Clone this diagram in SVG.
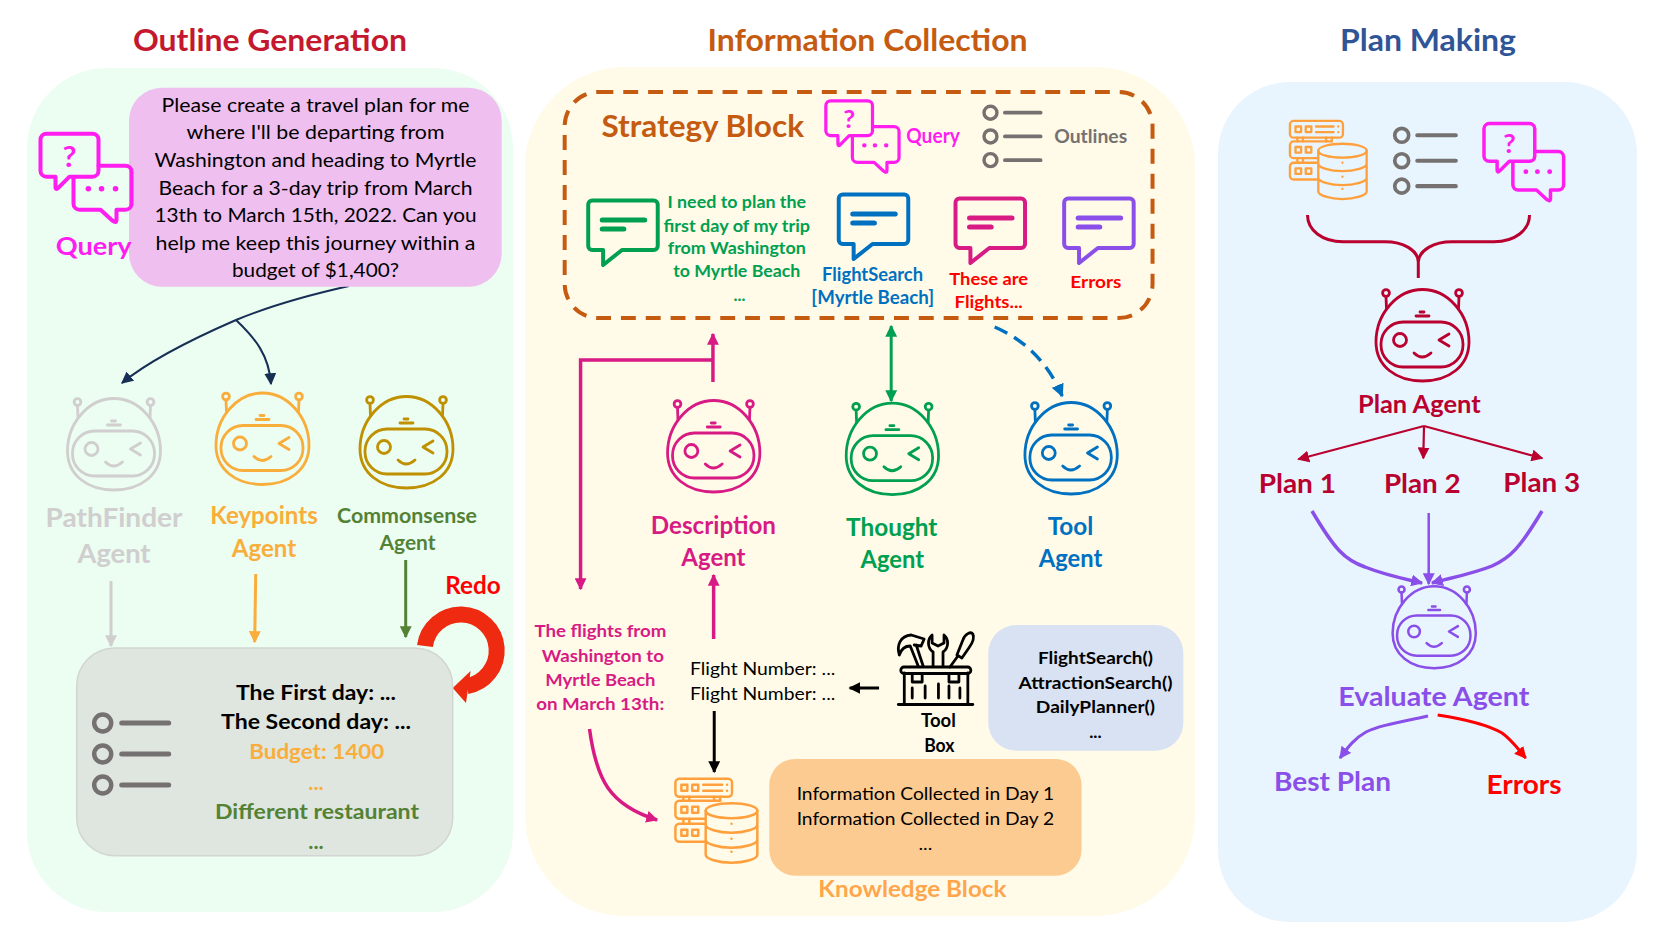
<svg xmlns="http://www.w3.org/2000/svg" width="1661" height="934" viewBox="0 0 1661 934">
<style>
text{font-family:"Lato","Carlito","Liberation Sans",sans-serif;text-anchor:middle;font-weight:700}
.r{font-weight:400}
.l{text-anchor:start}
.ic{fill:none;stroke:currentColor;stroke-linecap:round;stroke-linejoin:round}
.c{fill:none;stroke-width:3}
.title{font-size:31px}
.pink{fill:#D81B84}.grn{fill:#00A050}.blu{fill:#0070C0}.red{fill:#FF0000}.crim{fill:#B9002F}.pur{fill:#8A4FE8}.org{fill:#F9AE3C}.ol{fill:#548235}.mag{fill:#FF1DF0}.gry{fill:#D0CECE}.k{fill:#000}
</style>
<defs>
<g id="robot" class="ic" stroke-width="2.800">
<path d="M47.500 1.500C73 1.500 94 26 94 54C94 78 74 93 47.500 93C21 93 1 78 1 54C1 26 22 1.500 47.500 1.500Z"/>
<circle cx="11" cy="5" r="3.400"/><circle cx="84" cy="5" r="3.400"/>
<path d="M11 8.500L11.500 21M84 8.500L83.500 21"/>
<rect x="6" y="34" width="82" height="45" rx="22"/>
<circle cx="25" cy="52" r="6.500"/>
<path d="M74 46L64 52L74 58M39 65Q47 73 56 65M45 24H49M41 28H54"/>
</g>
<g id="query" class="ic" stroke-width="4">
<path d="M6 1H52a6 6 0 0 1 6 6V38a6 6 0 0 1-6 6H29L18 55Q15 58 15 54V44H6a6 6 0 0 1-6-6V7a6 6 0 0 1 6-6Z"/>
<path d="M58 33H85a6 6 0 0 1 6 6V71a6 6 0 0 1-6 6H76V87Q76 91 72 88L60 77H39a6 6 0 0 1-6-6V45"/>
<path stroke-width="5.500" d="M47.800 56H47.900M61 56H61.100M75 56H75.100"/>
</g>
<g id="outline" class="ic">
<circle cx="0" cy="0" r="8.500" stroke-width="4.500"/><circle cx="0" cy="31" r="8.500" stroke-width="4.500"/><circle cx="0" cy="62" r="8.500" stroke-width="4.500"/>
<path stroke-width="5" d="M19 0H66M19 31H66M19 62H66"/>
</g>
<g id="db" class="ic" stroke-width="2.500">
<rect x="1" y="1" width="57" height="18" rx="4"/>
<path d="M46 23H5a4 4 0 0 0-4 4V37a4 4 0 0 0 4 4H31M31 46H5a4 4 0 0 0-4 4V60a4 4 0 0 0 4 4H31"/>
<path d="M9 19V23M15 19V23M40 19V23M46 19V23M9 41V46M15 41V46"/>
<rect x="7" y="7" width="6" height="6"/><rect x="18" y="7" width="6" height="6"/>
<rect x="7" y="29" width="6" height="6"/><rect x="18" y="29" width="6" height="6"/>
<rect x="7" y="52" width="6" height="6"/><rect x="18" y="52" width="6" height="6"/>
<path d="M29 7H48M29 13H48M53 7V7.100M53 13V13.100"/>
<ellipse cx="57.500" cy="33" rx="26" ry="7.500"/>
<path d="M31.500 33V77C31.500 81 44 85 57.500 85S83.500 81 83.500 77V33M31.500 47C31.500 51 44 55 57.500 55S83.500 51 83.500 47M31.500 62C31.500 66 44 70 57.500 70S83.500 66 83.500 62"/>
<path d="M57.500 46V46.100M57.500 61V61.100M57.500 74V74.100"/>
</g>
<g id="bubble" class="ic" stroke-width="4">
<path d="M5 1.500H67a4 4 0 0 1 4 4V47a4 4 0 0 1-4 4H35L16 66V51H5a4 4 0 0 1-4-4V5.500a4 4 0 0 1 4-4Z"/>
<path stroke-width="5" d="M15 21H58M15 30H37"/>
</g>
<marker id="mNavy" viewBox="0 0 10 10" refX="9" refY="5" markerWidth="12" markerHeight="12" markerUnits="userSpaceOnUse" orient="auto"><path d="M0 0L10 5L0 10Z" fill="#172F55"/></marker>
<marker id="mGray" viewBox="0 0 10 10" refX="9" refY="5" markerWidth="12" markerHeight="12" markerUnits="userSpaceOnUse" orient="auto"><path d="M0 0L10 5L0 10Z" fill="#D0CECE"/></marker>
<marker id="mOrg" viewBox="0 0 10 10" refX="9" refY="5" markerWidth="12" markerHeight="12" markerUnits="userSpaceOnUse" orient="auto"><path d="M0 0L10 5L0 10Z" fill="#F9AE3C"/></marker>
<marker id="mOl" viewBox="0 0 10 10" refX="9" refY="5" markerWidth="12" markerHeight="12" markerUnits="userSpaceOnUse" orient="auto"><path d="M0 0L10 5L0 10Z" fill="#548235"/></marker>
<marker id="mPink" viewBox="0 0 10 10" refX="9" refY="5" markerWidth="12" markerHeight="12" markerUnits="userSpaceOnUse" orient="auto"><path d="M0 0L10 5L0 10Z" fill="#D81B84"/></marker>
<marker id="mGrn" viewBox="0 0 10 10" refX="9" refY="5" markerWidth="12" markerHeight="12" markerUnits="userSpaceOnUse" orient="auto-start-reverse"><path d="M0 0L10 5L0 10Z" fill="#00A050"/></marker>
<marker id="mBlu" viewBox="0 0 10 10" refX="9" refY="5" markerWidth="13" markerHeight="13" markerUnits="userSpaceOnUse" orient="auto"><path d="M0 0L10 5L0 10Z" fill="#0070C0"/></marker>
<marker id="mK" viewBox="0 0 10 10" refX="9" refY="5" markerWidth="12" markerHeight="12" markerUnits="userSpaceOnUse" orient="auto"><path d="M0 0L10 5L0 10Z" fill="#000"/></marker>
<marker id="mCrim" viewBox="0 0 10 10" refX="9" refY="5" markerWidth="12" markerHeight="12" markerUnits="userSpaceOnUse" orient="auto"><path d="M0 0L10 5L0 10Z" fill="#B9002F"/></marker>
<marker id="mPur" viewBox="0 0 10 10" refX="9" refY="5" markerWidth="12" markerHeight="12" markerUnits="userSpaceOnUse" orient="auto"><path d="M0 0L10 5L0 10Z" fill="#8A4FE8"/></marker>
<marker id="mRed" viewBox="0 0 10 10" refX="9" refY="5" markerWidth="12" markerHeight="12" markerUnits="userSpaceOnUse" orient="auto"><path d="M0 0L10 5L0 10Z" fill="#FF0000"/></marker>
</defs>
<rect width="1661" height="934" fill="#fff"/>

<g id="panels">
<rect id="panel-outline" x="27" y="68" width="486" height="844" rx="80" fill="#ECFDF2"/>
<rect id="panel-info" x="525" y="67" width="670" height="849" rx="100" fill="#FFFBE8"/>
<rect id="panel-plan" x="1218" y="82" width="419" height="840" rx="72" fill="#E8F5FE"/>
</g>
<g id="titles">
<text class="title" x="270" y="51" fill="#C4182F" textLength="274" lengthAdjust="spacingAndGlyphs">Outline Generation</text>
<text class="title" x="867.500" y="51" fill="#C55A11" textLength="320" lengthAdjust="spacingAndGlyphs">Information Collection</text>
<text class="title" x="1428" y="51" fill="#2F5597" textLength="176" lengthAdjust="spacingAndGlyphs">Plan Making</text>
</g>

<g id="connectors">
<path class="c" stroke="#172F55" style="stroke-width:2" marker-end="url(#mNavy)" d="M349 286C300 297 260 310 236 320C190 340 150 360 122 383"/>
<path class="c" stroke="#172F55" style="stroke-width:2" marker-end="url(#mNavy)" d="M236 320C255 338 269 355 271 384"/>
<path class="c" stroke="#D0CECE" marker-end="url(#mGray)" d="M111 581V646"/>
<path class="c" stroke="#F9AE3C" marker-end="url(#mOrg)" d="M255.700 574L254.700 642"/>
<path class="c" stroke="#548235" marker-end="url(#mOl)" d="M405.700 560V637"/>
<path fill="none" stroke="#EE2A10" stroke-width="16" d="M425 646A36 36 0 1 1 467 686"/>
<path fill="#EE2A10" d="M452.700 688L470.600 671L466 703Z"/>
<g transform="matrix(.993 0 0 1 3.640 0)">
<path class="c" stroke="#D81B84" style="stroke-width:3.500" marker-end="url(#mPink)" d="M714.300 382V334"/>
<path class="c" stroke="#D81B84" style="stroke-width:3.500" marker-end="url(#mPink)" d="M714.300 360H581V589"/>
<path class="c" stroke="#00A050" marker-start="url(#mGrn)" marker-end="url(#mGrn)" d="M893.800 326V401"/>
<path class="c" stroke="#0070C0" style="stroke-width:3.500" stroke-dasharray="14 8" marker-end="url(#mBlu)" d="M998 327Q1045 347 1066 396"/>
<path class="c" stroke="#D81B84" style="stroke-width:3.500" marker-end="url(#mPink)" d="M715 639V575"/>
<path class="c" stroke="#000" marker-end="url(#mK)" d="M881.600 688H852"/>
<path class="c" stroke="#000" marker-end="url(#mK)" d="M715.600 711V772"/>
<path class="c" stroke="#D81B84" style="stroke-width:3.500" marker-end="url(#mPink)" d="M590 729C597 780 610 805 658 820"/>
</g>
<path class="c" stroke="#B9002F" d="M1307.500 215C1307.500 230 1322 241.700 1343 241.700H1385C1403 241.700 1418 250 1418.300 262V278M1529.500 215C1529.500 230 1515 241.700 1494 241.700H1452C1434 241.700 1419 250 1418.300 262"/>
<path class="c" stroke="#B9002F" style="stroke-width:2.200" marker-end="url(#mCrim)" d="M1424 426L1298.300 459.300"/>
<path class="c" stroke="#B9002F" style="stroke-width:2.200" marker-end="url(#mCrim)" d="M1424 426L1423.300 458.300"/>
<path class="c" stroke="#B9002F" style="stroke-width:2.200" marker-end="url(#mCrim)" d="M1424 426L1542.300 458.300"/>
<path class="c" stroke="#8A4FE8" style="stroke-width:3.500" marker-end="url(#mPur)" d="M1312 511C1335 550 1345 560 1365 567C1385 575 1405 579 1422 583"/>
<path class="c" stroke="#8A4FE8" style="stroke-width:2.500" marker-end="url(#mPur)" d="M1428.700 513V584"/>
<path class="c" stroke="#8A4FE8" style="stroke-width:3.500" marker-end="url(#mPur)" d="M1542 511C1520 548 1510 558 1492 566C1472 574 1450 578 1432 583"/>
<path class="c" stroke="#8A4FE8" marker-end="url(#mPur)" d="M1428 716C1395 723 1378 726 1366 732C1355 738 1348 747 1340 758"/>
<path class="c" stroke="#FF0000" marker-end="url(#mRed)" d="M1437.700 715C1470 720 1490 726 1502 733C1512 740 1518 749 1525.700 758"/>
</g>

<g id="query-node">
<rect x="129" y="87.700" width="372.700" height="199" rx="33" fill="#EFBFEF"/>
<use href="#query" transform="translate(40.500 132.700)" style="color:#FF1DF0"/>
<text x="69.500" y="167" font-size="29" class="mag" textLength="14" lengthAdjust="spacingAndGlyphs">?</text>
<text x="93.700" y="255" font-size="25" class="mag" textLength="76" lengthAdjust="spacingAndGlyphs">Query</text>
<g font-size="20">
<text class="r" x="315.500" y="111.700" textLength="308" lengthAdjust="spacingAndGlyphs">Please create a travel plan for me</text>
<text class="r" x="315.500" y="139.300" textLength="258" lengthAdjust="spacingAndGlyphs">where I'll be departing from</text>
<text class="r" x="315.500" y="166.700" textLength="322" lengthAdjust="spacingAndGlyphs">Washington and heading to Myrtle</text>
<text class="r" x="315.500" y="195" textLength="314" lengthAdjust="spacingAndGlyphs">Beach for a 3-day trip from March</text>
<text class="r" x="315.500" y="222.300" textLength="322" lengthAdjust="spacingAndGlyphs">13th to March 15th, 2022. Can you</text>
<text class="r" x="315.500" y="250" textLength="320" lengthAdjust="spacingAndGlyphs">help me keep this journey within a</text>
<text class="r" x="315.500" y="277.300" textLength="167" lengthAdjust="spacingAndGlyphs">budget of $1,400?</text>
</g>
</g>

<g id="pathfinder-agent">
<use href="#robot" transform="translate(66.500 397)" style="color:#D0CECE"/>
<text x="114" y="526.700" font-size="27" class="gry" textLength="137" lengthAdjust="spacingAndGlyphs">PathFinder</text>
<text x="114" y="563.300" font-size="27" class="gry" textLength="73" lengthAdjust="spacingAndGlyphs">Agent</text>
</g>
<g id="keypoints-agent">
<use href="#robot" transform="translate(215 391.500)" style="color:#F9AE3C"/>
<text x="264" y="524" font-size="24" class="org" textLength="107.500" lengthAdjust="spacingAndGlyphs">Keypoints</text>
<text x="264" y="556.700" font-size="24" class="org" textLength="64.500" lengthAdjust="spacingAndGlyphs">Agent</text>
</g>
<g id="commonsense-agent">
<use href="#robot" transform="translate(359 395)" style="color:#BF9000"/>
<text x="407" y="522.700" font-size="21" class="ol" textLength="140" lengthAdjust="spacingAndGlyphs">Commonsense</text>
<text x="407.500" y="550" font-size="21" class="ol" textLength="56" lengthAdjust="spacingAndGlyphs">Agent</text>
</g>
<g id="redo-label"><text x="473" y="594" font-size="24" class="red" textLength="55.500" lengthAdjust="spacingAndGlyphs">Redo</text></g>

<g id="outline-result">
<rect x="76.700" y="648" width="376" height="207.700" rx="38" fill="#DFE5DF" stroke="#D2D6D2" stroke-width="1.500"/>
<use href="#outline" transform="translate(102.700 723)" style="color:#767171"/>
<g font-size="21">
<text x="316" y="700" class="k" textLength="160" lengthAdjust="spacingAndGlyphs">The First day: ...</text>
<text x="316" y="729.300" class="k" textLength="190" lengthAdjust="spacingAndGlyphs">The Second day: ...</text>
<text x="316.700" y="759.300" class="org" textLength="135" lengthAdjust="spacingAndGlyphs">Budget: 1400</text>
<text x="316" y="790" class="org" textLength="15.500" lengthAdjust="spacingAndGlyphs">...</text>
<text x="317" y="819.300" class="ol" textLength="204" lengthAdjust="spacingAndGlyphs">Different restaurant</text>
<text x="316" y="849.300" class="ol" textLength="15.500" lengthAdjust="spacingAndGlyphs">...</text>
</g>
</g>

<g id="info-column" transform="matrix(.993 0 0 1 3.640 0)">
<g id="strategy-block">
<rect x="565" y="92" width="592" height="226" rx="34" fill="none" stroke="#C55A11" stroke-width="4" stroke-dasharray="15 10"/>
<text x="704" y="136.700" font-size="31" fill="#C55A11" textLength="204" lengthAdjust="spacingAndGlyphs">Strategy Block</text>
<use href="#query" transform="translate(828 100) scale(.81)" style="color:#FF1DF0"/>
<text x="851.500" y="128" font-size="24" class="mag" textLength="12" lengthAdjust="spacingAndGlyphs">?</text>
<text x="936" y="142.700" font-size="20" class="mag" textLength="54" lengthAdjust="spacingAndGlyphs">Query</text>
<use href="#outline" transform="translate(993.800 112.700) scale(.765)" style="color:#767171"/>
<text x="1094.700" y="142.700" font-size="19" fill="#767171" textLength="73.500" lengthAdjust="spacingAndGlyphs">Outlines</text>
<use href="#bubble" transform="translate(587.700 199)" style="color:#00A050"/>
<use href="#bubble" transform="translate(840 193)" style="color:#0070C0"/>
<use href="#bubble" transform="translate(957.600 197)" style="color:#D81B84"/>
<use href="#bubble" transform="translate(1067 197)" style="color:#8A4FE8"/>
<g font-size="17">
<text x="738.300" y="208.300" class="grn" textLength="139.700" lengthAdjust="spacingAndGlyphs">I need to plan the</text>
<text x="738.300" y="231.700" class="grn" textLength="147.600" lengthAdjust="spacingAndGlyphs">first day of my trip</text>
<text x="738.300" y="254.300" class="grn" textLength="139" lengthAdjust="spacingAndGlyphs">from Washington</text>
<text x="738.300" y="277.300" class="grn" textLength="128" lengthAdjust="spacingAndGlyphs">to Myrtle Beach</text>
<text x="741" y="300.700" class="grn" textLength="12" lengthAdjust="spacingAndGlyphs">...</text>
<text x="875" y="280.700" class="blu" font-size="18" textLength="101.700" lengthAdjust="spacingAndGlyphs">FlightSearch</text>
<text x="875.200" y="304" class="blu" font-size="18" textLength="123.600" lengthAdjust="spacingAndGlyphs">[Myrtle Beach]</text>
<text x="992" y="285" class="red" textLength="79.500" lengthAdjust="spacingAndGlyphs">These are</text>
<text x="992" y="308.300" class="red" textLength="68.600" lengthAdjust="spacingAndGlyphs">Flights...</text>
<text x="1100" y="288.300" class="red" textLength="51.500" lengthAdjust="spacingAndGlyphs">Errors</text>
</g>
</g>

<g id="description-agent">
<use href="#robot" transform="translate(667.600 399)" style="color:#D81B84"/>
<text x="714.800" y="534.300" font-size="24" class="pink" textLength="126" lengthAdjust="spacingAndGlyphs">Description</text>
<text x="714.800" y="566" font-size="24" class="pink" textLength="64.600" lengthAdjust="spacingAndGlyphs">Agent</text>
</g>
<g id="thought-agent">
<use href="#robot" transform="translate(847.500 401.700)" style="color:#00A050"/>
<text x="894.400" y="536" font-size="24" class="grn" textLength="92" lengthAdjust="spacingAndGlyphs">Thought</text>
<text x="894.900" y="568.300" font-size="24" class="grn" textLength="64" lengthAdjust="spacingAndGlyphs">Agent</text>
</g>
<g id="tool-agent">
<use href="#robot" transform="translate(1027.500 401)" style="color:#0070C0"/>
<text x="1074.400" y="535.300" font-size="24" class="blu" textLength="46" lengthAdjust="spacingAndGlyphs">Tool</text>
<text x="1074.400" y="566.700" font-size="24" class="blu" textLength="64" lengthAdjust="spacingAndGlyphs">Agent</text>
</g>

<g id="flight-desc" font-size="17">
<text x="601" y="636.700" class="pink" textLength="133" lengthAdjust="spacingAndGlyphs">The flights from</text>
<text x="603.400" y="661.700" class="pink" textLength="123" lengthAdjust="spacingAndGlyphs">Washington to</text>
<text x="601" y="686" class="pink" textLength="111" lengthAdjust="spacingAndGlyphs">Myrtle Beach</text>
<text x="600.800" y="710" class="pink" textLength="129" lengthAdjust="spacingAndGlyphs">on March 13th:</text>
</g>
<g id="flight-numbers" font-size="18">
<text class="r l" x="691.200" y="675" textLength="146.300" lengthAdjust="spacingAndGlyphs">Flight Number: ...</text>
<text class="r l" x="691.200" y="700" textLength="146.300" lengthAdjust="spacingAndGlyphs">Flight Number: ...</text>
</g>

<g id="toolbox">
<g fill="none" stroke="#000" stroke-width="2.800" stroke-linecap="round" stroke-linejoin="round">
<path d="M901 704.500H976"/>
<rect x="903.500" y="667" width="70.500" height="6.500" rx="3"/>
<path d="M907 673V704M971 673V704M915 688V698M928 686V698M941.400 684V698M952 686V698M963 688V698"/>
<rect x="915" y="673.500" width="10" height="8.500"/><rect x="952" y="673.500" width="10" height="8.500"/>
<path d="M921 666L913 646C908 646 904 649 902 655C899 645 903 636 914 635L927 639L924 646L917 645M926 666L919 645"/>
<path d="M936 666V652C930 648 930 639 935 635V643L941 646L947 643V635C952 639 952 648 946 652V666"/>
<path d="M960 655L966 640C968 634 974 631 976 634C978 638 975 644 972 648L965 658ZM961 656L953 667"/>
</g>
<text x="941.400" y="726.700" font-size="18" class="k" textLength="35" lengthAdjust="spacingAndGlyphs">Tool</text>
<text x="942.300" y="751.700" font-size="18" class="k" textLength="30.500" lengthAdjust="spacingAndGlyphs">Box</text>
</g>
<g id="tool-list">
<rect x="991.600" y="625" width="196.400" height="125.700" rx="28" fill="#D9E2F3"/>
<g font-size="17">
<text x="1099.500" y="664.300" class="k" textLength="115.700" lengthAdjust="spacingAndGlyphs">FlightSearch()</text>
<text x="1099.500" y="689.300" class="k" textLength="155" lengthAdjust="spacingAndGlyphs">AttractionSearch()</text>
<text x="1099.500" y="713.300" class="k" textLength="120" lengthAdjust="spacingAndGlyphs">DailyPlanner()</text>
<text x="1099.500" y="738.300" class="k" textLength="12.500" lengthAdjust="spacingAndGlyphs">...</text>
</g>
</g>
<g id="knowledge-block">
<use href="#db" transform="translate(675.500 777.700)" style="color:#FFA03C"/>
<rect x="771" y="759" width="314.500" height="116.700" rx="26" fill="#FCCB91"/>
<g font-size="18">
<text class="r" x="928.300" y="800" textLength="259.400" lengthAdjust="spacingAndGlyphs">Information Collected in Day 1</text>
<text class="r" x="928.300" y="825" textLength="259.400" lengthAdjust="spacingAndGlyphs">Information Collected in Day 2</text>
<text class="r" x="928.300" y="850" textLength="14" lengthAdjust="spacingAndGlyphs">...</text>
</g>
<text x="915.200" y="897" font-size="23" fill="#FFA64D" textLength="189.500" lengthAdjust="spacingAndGlyphs">Knowledge Block</text>
</g>
</g>

<g id="plan-inputs">
<use href="#db" transform="translate(1289 120) scale(.93)" style="color:#FFA03C"/>
<use href="#outline" transform="translate(1401.700 135.300) scale(.82)" style="color:#767171"/>
<use href="#query" transform="translate(1484 122.700) scale(.875)" style="color:#FF1DF0"/>
<text x="1509.500" y="153" font-size="26" class="mag" textLength="12.500" lengthAdjust="spacingAndGlyphs">?</text>
</g>
<g id="plan-agent">
<use href="#robot" transform="translate(1375 288)" style="color:#B9002F"/>
<text x="1419.300" y="413.300" font-size="25" class="crim" textLength="122.700" lengthAdjust="spacingAndGlyphs">Plan Agent</text>
</g>
<g id="plan-1"><text x="1297.300" y="493.300" font-size="27" class="crim" textLength="77.300" lengthAdjust="spacingAndGlyphs">Plan 1</text></g>
<g id="plan-2"><text x="1422.300" y="493.300" font-size="27" class="crim" textLength="76.700" lengthAdjust="spacingAndGlyphs">Plan 2</text></g>
<g id="plan-3"><text x="1541.700" y="492.300" font-size="27" class="crim" textLength="76.700" lengthAdjust="spacingAndGlyphs">Plan 3</text></g>
<g id="evaluate-agent">
<use href="#robot" transform="translate(1391.700 585) scale(.895)" style="color:#8A4FE8"/>
<text x="1433.800" y="705.700" font-size="27" class="pur" textLength="191" lengthAdjust="spacingAndGlyphs">Evaluate Agent</text>
</g>
<g id="best-plan"><text x="1332.500" y="791" font-size="26" class="pur" textLength="117" lengthAdjust="spacingAndGlyphs">Best Plan</text></g>
<g id="errors"><text x="1524" y="794.300" font-size="26" class="red" textLength="75" lengthAdjust="spacingAndGlyphs">Errors</text></g>
</svg>
